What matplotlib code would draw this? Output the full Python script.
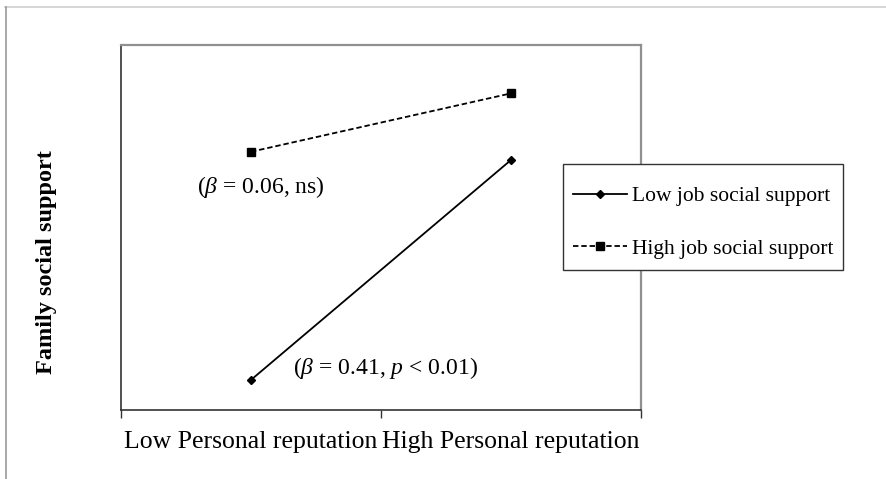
import matplotlib
matplotlib.use("Agg")
import matplotlib.pyplot as plt
from matplotlib.lines import Line2D
from matplotlib.patches import Rectangle

plt.rcParams['font.family'] = ['Liberation Serif', 'DejaVu Serif']
plt.rcParams['mathtext.fontset'] = 'custom'
plt.rcParams['mathtext.rm'] = 'Liberation Serif'
plt.rcParams['mathtext.it'] = 'Liberation Serif:italic'
plt.rcParams['mathtext.default'] = 'it'

# Data
categories = ["Low Personal reputation", "High Personal reputation"]
low_job = [1.33, 3.74]
high_job = [3.83, 4.47]
series_labels = ["Low job social support", "High job social support"]
annot_high = r"($\beta$ = 0.06, ns)"
annot_low = r"($\beta$ = 0.41, $p$ < 0.01)"
ylabel = "Family social support"

W, H = 887, 479
fig = plt.figure(figsize=(W / 100, H / 100), dpi=100)
ax = fig.add_axes([121 / W, 1 - 410 / H, (641 - 121) / W, (410 - 45) / H])

xpos = [0.5, 1.5]
l1, = ax.plot(xpos, low_job, color='black', lw=1.3, marker='D', markersize=4.5,
              label=series_labels[0])
l2, = ax.plot(xpos, high_job, color='black', lw=1.3, ls=(0, (3, 1.6)), marker='s',
              markersize=5.3, label=series_labels[1])

ax.set_xlim(0, 2)
ax.set_ylim(1, 5)
ax.set_xticks([0, 1, 2])
ax.set_xticklabels([])
ax.set_xticks(xpos, minor=True)
ax.set_xticklabels(categories, minor=True, fontsize=18.5)
ax.tick_params(axis='x', which='minor', length=0, pad=15)
ax.tick_params(axis='x', which='major', length=6, width=1, color='#333333')
ax.set_yticks([])

for s in ['left', 'bottom']:
    ax.spines[s].set_color('#333333')
    ax.spines[s].set_linewidth(1.2)
for s in ['top', 'right']:
    ax.spines[s].set_color('#909090')
    ax.spines[s].set_linewidth(1.6)

ax.text(0.2923, 3.44, annot_high, fontsize=17, va='center', ha='left')
ax.text(0.6615, 1.46, annot_low, fontsize=17, va='center', ha='left')

fig.text(47 / W, 1 - 262 / H, ylabel, rotation=90, fontsize=17.5, fontweight='bold',
         ha='center', va='center')

# legend box
fig.add_artist(Rectangle((563 / W, 1 - 270 / H), 280 / W, 106 / H, transform=fig.transFigure,
                         facecolor='white', edgecolor='#333333', lw=1.0, zorder=2))
leg = fig.legend(handles=[l1, l2], loc='upper left', bbox_to_anchor=(573 / W, 1 - 186 / H),
                 bbox_transform=fig.transFigure, borderaxespad=0, fontsize=15.5,
                 handlelength=2.5, handletextpad=0.25, labelspacing=1.52,
                 borderpad=0, frameon=False)
leg.set_zorder(5)

# figure border lines
fig.add_artist(Line2D([5 / W, 1], [1 - 7 / H, 1 - 7 / H], color='#d0d0d0', lw=1.2,
                      transform=fig.transFigure))
fig.add_artist(Line2D([6 / W, 6 / W], [1 - 7 / H, 0], color='#999999', lw=1.2,
                      transform=fig.transFigure))

fig.savefig("out.png", dpi=100)
